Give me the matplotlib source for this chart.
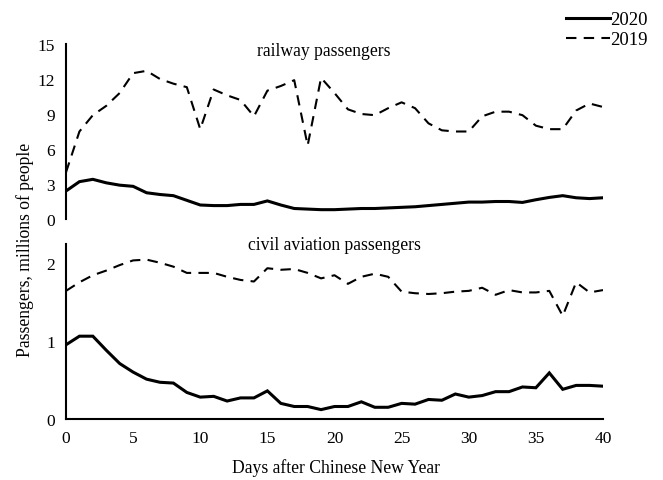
import numpy as np
import matplotlib
matplotlib.use('Agg')
import matplotlib.pyplot as plt
from matplotlib.lines import Line2D

plt.rcParams['font.family'] = ['Liberation Serif', 'DejaVu Serif']

days = list(range(41))

rail_2020 = [2.4, 3.2, 3.4, 3.1, 2.9, 2.8, 2.25, 2.1, 2.0, 1.6, 1.2, 1.15, 1.15, 1.25, 1.25, 1.55,
             1.2, 0.9, 0.85, 0.8, 0.8, 0.85, 0.9, 0.9, 0.95, 1.0, 1.05, 1.15, 1.25, 1.35, 1.45,
             1.45, 1.5, 1.5, 1.42, 1.65, 1.85, 2.0, 1.82, 1.75, 1.82]
rail_2019 = [4.0, 7.5, 8.9, 9.7, 10.8, 12.5, 12.7, 12.0, 11.6, 11.3, 7.7, 11.1, 10.6, 10.2, 8.8,
             11.0, 11.4, 11.9, 6.3, 12.1, 10.8, 9.4, 9.0, 8.9, 9.5, 10.0, 9.5, 8.2, 7.6, 7.5,
             7.5, 8.8, 9.2, 9.2, 8.9, 8.0, 7.7, 7.7, 9.3, 9.9, 9.6]

air_2020 = [0.95, 1.06, 1.06, 0.88, 0.71, 0.6, 0.51, 0.47, 0.46, 0.34, 0.28, 0.29, 0.23, 0.27,
            0.27, 0.36, 0.2, 0.16, 0.16, 0.12, 0.16, 0.16, 0.22, 0.15, 0.15, 0.2, 0.19, 0.25,
            0.24, 0.32, 0.28, 0.3, 0.35, 0.35, 0.41, 0.4, 0.59, 0.38, 0.43, 0.43, 0.42]
air_2019 = [1.64, 1.75, 1.84, 1.9, 1.97, 2.03, 2.04, 2.0, 1.95, 1.87, 1.87, 1.87, 1.82, 1.78,
            1.76, 1.93, 1.91, 1.92, 1.87, 1.8, 1.84, 1.73, 1.82, 1.86, 1.82, 1.63, 1.61, 1.6,
            1.61, 1.63, 1.64, 1.68, 1.59, 1.65, 1.62, 1.62, 1.64, 1.32, 1.75, 1.62, 1.65]

rail_ticks = [0, 3, 6, 9, 12, 15]
air_ticks = [0, 1, 2]
day_ticks = [0, 5, 10, 15, 20, 25, 30, 35, 40]

W, H = 663, 481
fig = plt.figure(figsize=(W / 100, H / 100), dpi=100)

def px_axes(left, top, right, bottom):
    return fig.add_axes([left / W, (H - bottom) / H, (right - left) / W, (bottom - top) / H])

solid_kw = dict(color='black', lw=2.2, solid_joinstyle='miter')
dash_kw = dict(color='black', lw=1.5, dashes=(5, 3.5))

ax1 = px_axes(66, 45, 603, 220)
ax1.plot(days, rail_2020, **solid_kw)
ax1.plot(days, rail_2019, **dash_kw)
ax1.set_xlim(0, 40)
ax1.set_ylim(0, 15)
ax1.set_yticks(rail_ticks)
ax1.set_xticks([])
for s in ['top', 'right', 'bottom']:
    ax1.spines[s].set_visible(False)
ax1.spines['left'].set_linewidth(1.5)
ax1.tick_params(axis='y', length=0, pad=8, labelsize=12.5)
ax1.text(0.48, 0.96, 'railway passengers', transform=ax1.transAxes,
         ha='center', va='center', fontsize=12.7)

ax2 = px_axes(66, 245, 603, 420)
ax2.plot(days, air_2020, **solid_kw)
ax2.plot(days, air_2019, **dash_kw)
ax2.set_xlim(0, 40)
ax2.set_ylim(0, 2.24)
ax2.set_yticks(air_ticks)
ax2.set_xticks(day_ticks)
for s in ['top', 'right']:
    ax2.spines[s].set_visible(False)
for s in ['left', 'bottom']:
    ax2.spines[s].set_linewidth(1.5)
ax2.tick_params(axis='y', length=0, pad=8, labelsize=12.5)
ax2.tick_params(axis='x', length=0, pad=8, labelsize=12.5)
ax2.text(0.5, 0.995, 'civil aviation passengers', transform=ax2.transAxes,
         ha='center', va='center', fontsize=12.7)

fig.text(25 / W, (H - 250) / H, 'Passengers, millions of people', rotation=90,
         ha='center', va='center', fontsize=12.7)
fig.text(336 / W, (H - 468) / H, 'Days after Chinese New Year',
         ha='center', va='center', fontsize=12.7)

handles = [Line2D([], [], **solid_kw), Line2D([], [], **dash_kw)]
fig.legend(handles, ['2020', '2019'], loc='upper right', bbox_to_anchor=(648 / W, 1 - 12 / H),
           frameon=False, fontsize=13.5, handlelength=2.3, handletextpad=0.05,
           labelspacing=0.15, borderaxespad=0.0, borderpad=0.0)

fig.savefig('out.png', dpi=100)
